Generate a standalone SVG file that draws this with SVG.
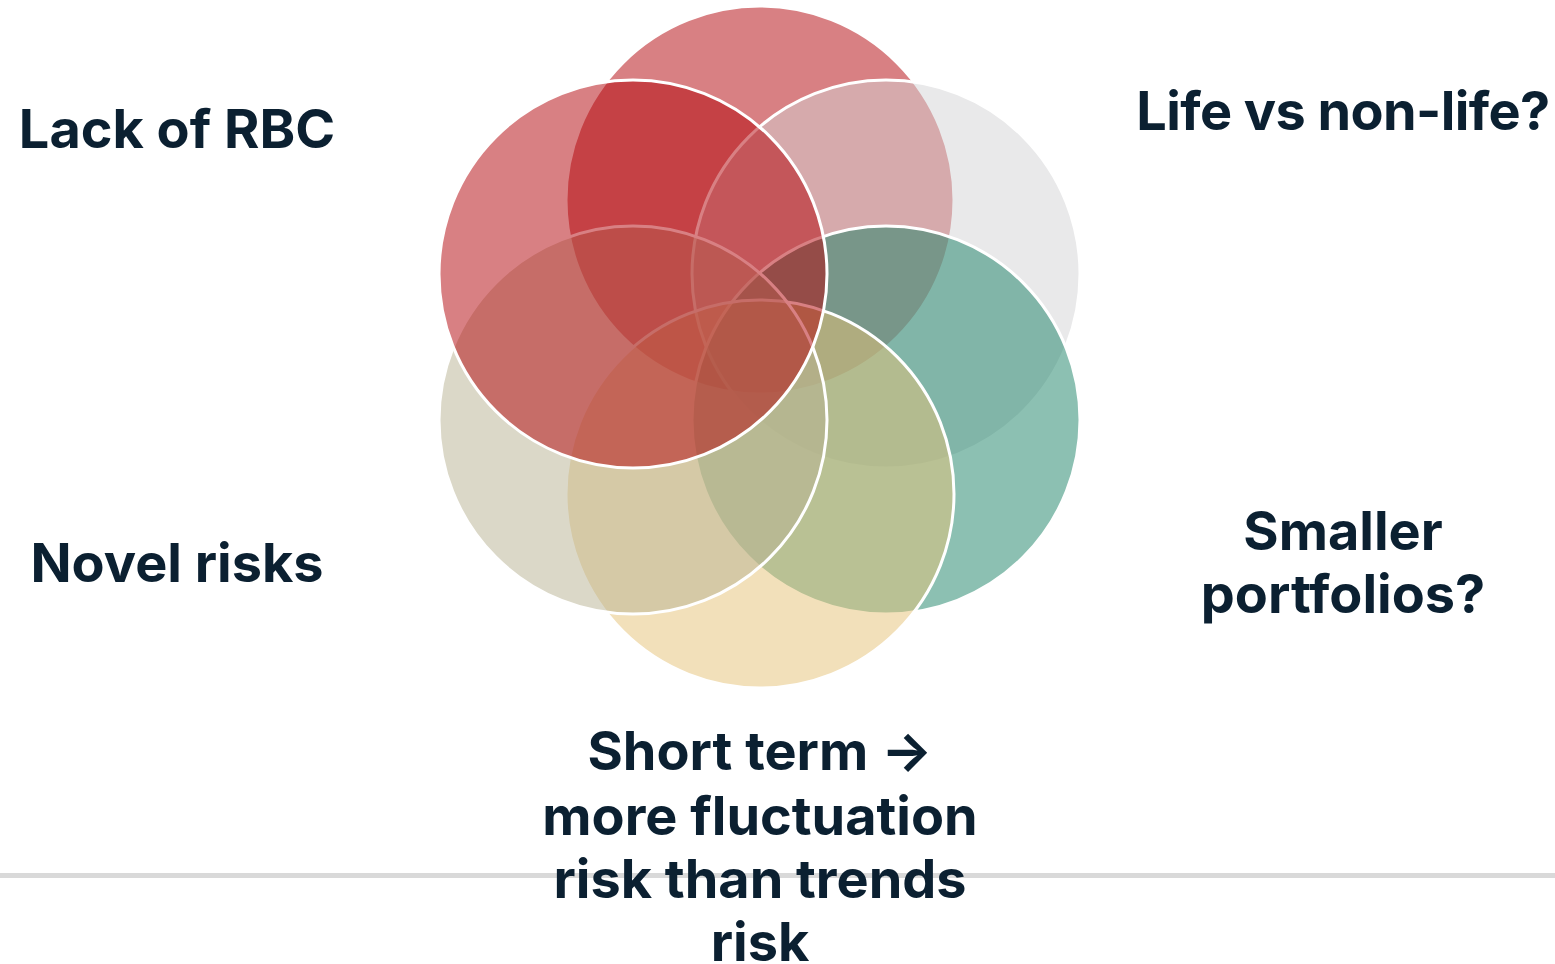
<svg xmlns="http://www.w3.org/2000/svg" width="1555" height="964" viewBox="0 0 1555 964">
  <style>
    .petal { stroke: #ffffff; stroke-width: 3; }
    .label { font-family: Inter, "Open Sans", "Liberation Sans", sans-serif; font-weight: 700; font-size: 54px; fill: #0b2031; text-anchor: middle; }
  </style>
  <rect width="1555" height="964" fill="#ffffff"/>
  <!-- divider -->
  <line x1="0" y1="875.5" x2="1555" y2="875.5" stroke="#d9d9d9" stroke-width="5"/>

  <!-- six overlapping petals around (760,347), drawn clockwise from the top -->
  <g id="petal-top"><circle class="petal" cx="760" cy="200" r="194" fill="rgba(177,1,7,0.5)"/></g>
  <g id="petal-upper-right"><circle class="petal" cx="886" cy="274" r="194" fill="rgba(212,212,213,0.5)"/></g>
  <g id="petal-lower-right"><circle class="petal" cx="886" cy="420" r="194" fill="rgba(25,129,101,0.5)"/></g>
  <g id="petal-bottom"><circle class="petal" cx="760" cy="494" r="194" fill="rgba(229,193,117,0.5)"/></g>
  <g id="petal-lower-left"><circle class="petal" cx="633" cy="420" r="194" fill="rgba(183,177,145,0.5)"/></g>
  <g id="petal-upper-left"><circle class="petal" cx="633" cy="274" r="194" fill="rgba(177,1,7,0.5)"/></g>

  <g id="label-rbc"><text class="label" x="177" y="148">Lack of RBC</text></g>
  <g id="label-life"><text class="label" x="1343" y="130" letter-spacing="-0.6">Life vs non-life?</text></g>
  <g id="label-novel"><text class="label" x="177" y="582">Novel risks</text></g>
  <g id="label-portfolios">
    <text class="label" x="1343" y="550">Smaller</text>
    <text class="label" x="1343" y="613">portfolios?</text>
  </g>
  <g id="label-short-term">
    <text class="label" x="760" y="770">Short term →</text>
    <text class="label" x="760" y="835">more fluctuation</text>
    <text class="label" x="760" y="898">risk than trends</text>
    <text class="label" x="760" y="961">risk</text>
  </g>
</svg>
